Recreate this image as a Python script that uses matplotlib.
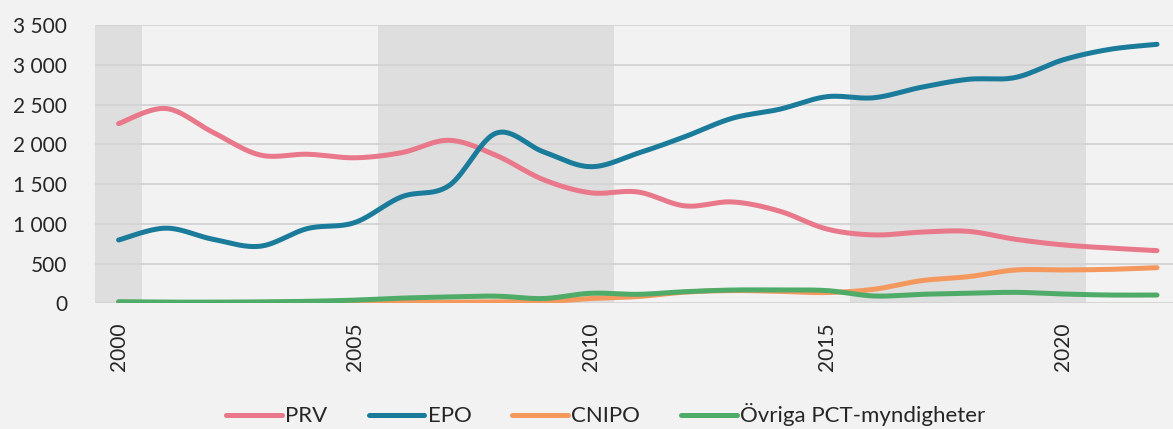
import numpy as np
import matplotlib
matplotlib.use("Agg")
import matplotlib.pyplot as plt
from matplotlib.ticker import FuncFormatter

years = list(range(2000, 2023))
prv = [2260, 2450, 2150, 1865, 1875, 1830, 1895, 2050, 1860, 1555, 1390, 1400, 1225,
       1275, 1160, 935, 860, 895, 905, 805, 735, 695, 662]
epo = [796, 945, 805, 718, 940, 1015, 1340, 1480, 2140, 1905, 1718, 1887, 2096,
       2327, 2440, 2598, 2585, 2716, 2817, 2840, 3060, 3194, 3257]
cnipo = [5, 5, 5, 5, 5, 8, 10, 12, 18, 20, 60, 85, 140,
         160, 150, 135, 176, 284, 335, 419, 419, 427, 448]
ovriga = [20, 15, 15, 18, 25, 40, 65, 80, 90, 60, 126, 113, 146,
          167, 167, 160, 92, 113, 126, 138, 117, 104, 104]
series_names = ["PRV", "EPO", "CNIPO", "Övriga PCT-myndigheter"]
series_colors = ["#e8788a", "#1a7b9b", "#f4985e", "#4fab68"]
shade_start = [1999.5, 2005.5, 2015.5]
shade_end = [2000.5, 2010.5, 2020.5]
xticks = [2000, 2005, 2010, 2015, 2020]
yticks = [0, 500, 1000, 1500, 2000, 2500, 3000, 3500]


def smooth(x, y, n=30):
    x = np.asarray(x, float)
    y = np.asarray(y, float)
    px = np.concatenate([[x[0]], x, [x[-1]]])
    py = np.concatenate([[y[0]], y, [y[-1]]])
    xs, ys = [], []
    t = np.linspace(0, 1, n)
    for i in range(1, len(px) - 2):
        p0 = np.array([px[i], py[i]])
        p3 = np.array([px[i + 1], py[i + 1]])
        c1 = p0 + (np.array([px[i + 1], py[i + 1]]) - np.array([px[i - 1], py[i - 1]])) / 6
        c2 = p3 - (np.array([px[i + 2], py[i + 2]]) - np.array([px[i], py[i]])) / 6
        b = ((1 - t) ** 3)[:, None] * p0 + (3 * (1 - t) ** 2 * t)[:, None] * c1 \
            + (3 * (1 - t) * t ** 2)[:, None] * c2 + (t ** 3)[:, None] * p3
        xs.extend(b[:, 0])
        ys.extend(b[:, 1])
    return xs, ys


plt.rcParams['font.family'] = ['Lato', 'DejaVu Sans']

fig = plt.figure(figsize=(11.73, 4.29), dpi=100, facecolor="#f2f2f2")
ax = fig.add_axes([95 / 1173, (429 - 303.3) / 429, (1180.6 - 95) / 1173, (303.3 - 25) / 429])
ax.set_facecolor("#f2f2f2")

for s, e in zip(shade_start, shade_end):
    ax.axvspan(s, e, color="#dedede", zorder=0, lw=0)

ax.set_xlim(1999.5, 2022.5)
ax.set_ylim(0, 3500)
ax.set_yticks(yticks)
ax.set_xticks(xticks)
ax.yaxis.set_major_formatter(FuncFormatter(lambda v, p: f"{int(v):,}".replace(",", " ")))
ax.grid(axis="y", color="#d4d4d4", lw=1.3, zorder=1)
ax.set_axisbelow(True)
for sp in ax.spines.values():
    sp.set_visible(False)
ax.tick_params(axis="both", length=0, labelsize=15, colors="#262626")
ax.tick_params(axis="y", pad=20)
ax.tick_params(axis="x", pad=14, labelrotation=90)

for name, vals, col in zip(series_names, [prv, epo, cnipo, ovriga], series_colors):
    sx, sy = smooth(years, vals)
    ax.plot(sx, sy, color=col, lw=3.6, solid_capstyle="round", label=name, zorder=3)

fig.legend(loc="center", bbox_to_anchor=(606 / 1173, 1 - 415 / 429), ncol=4, frameon=False,
           fontsize=16, handlelength=2.5, handletextpad=0.15, columnspacing=1.85,
           labelcolor="#262626")

fig.savefig("out.png", dpi=100, facecolor=fig.get_facecolor())
